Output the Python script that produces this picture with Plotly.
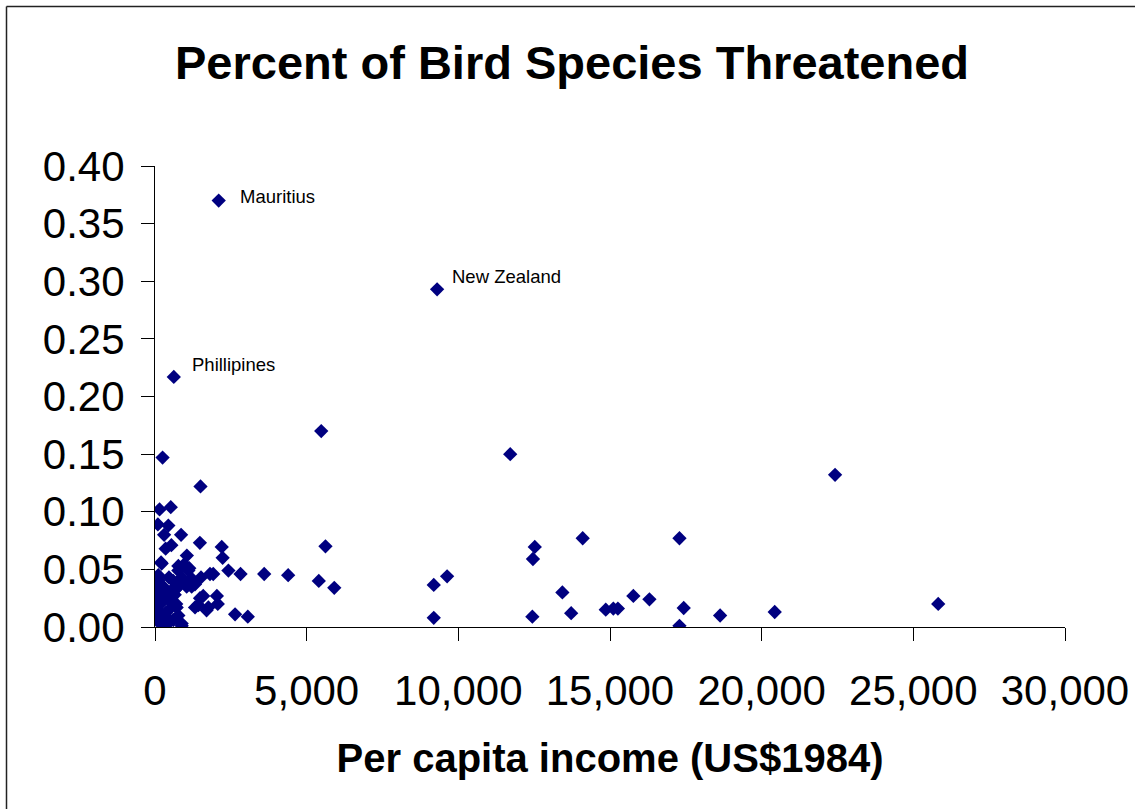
import plotly.graph_objects as go

# Per capita income (US$1984)
income = [
    2100, 9300, 620,
    5480, 11710, 22420, 250, 1500, 150, 520, 95, 440, 300, 860, 1480, 540, 350,
    2200, 2230, 1050, 5620, 12520, 12460, 14100, 17290, 200, 770, 1130, 1920,
    2420, 2820, 3600, 4390, 5400, 5910, 9190, 9630, 9190, 12440, 13430, 13720,
    14860, 15110, 15260, 15770, 16300, 17430, 17290, 18630, 20430, 25820,
    110, 460, 1590, 2040, 1430, 1320, 1700, 2070, 2640, 3060, 880, 220,
    769, 1099, 879, 1209, 1044, 1319, 769, 1517, 967, 659,
    220, 1813, 110, 110, 165, 165, 165, 330, 550, 495, 715, 769, 879, 440,
    330, 605, 275, 50, 50, 50, 300, 250, 400, 600, 350, 500, 700, 150, 80,
    200, 650, 950, 1484, 1759, 1209, 30, 120, 60,
]
# Share of bird species threatened
threatened = [
    0.370, 0.293, 0.217,
    0.170, 0.150, 0.132, 0.147, 0.122, 0.102, 0.104, 0.089, 0.088, 0.080, 0.080,
    0.073, 0.071, 0.068, 0.0695, 0.060, 0.062, 0.070, 0.0695, 0.059, 0.077,
    0.077, 0.056, 0.053, 0.051, 0.046, 0.049, 0.046, 0.046, 0.045, 0.040,
    0.034, 0.0365, 0.044, 0.008, 0.009, 0.030, 0.012, 0.015, 0.016, 0.016,
    0.027, 0.024, 0.0165, 0.001, 0.010, 0.013, 0.020,
    0.045, 0.043, 0.027, 0.027, 0.019, 0.017, 0.0145, 0.020, 0.011, 0.009,
    0.001, 0.003,
    0.049, 0.049, 0.043, 0.042, 0.035, 0.037, 0.035, 0.043, 0.0545, 0.032,
    0.055, 0.046, 0.0405, 0.029, 0.020, 0.0116, 0.003, 0.000, 0.032, 0.023,
    0.017, 0.010, 0.003, 0.0145, 0.007, 0.006, 0.035, 0.035, 0.026, 0.017,
    0.030, 0.022, 0.025, 0.040, 0.012, 0.005, 0.020, 0.035, 0.015, 0.010,
    0.028, 0.040, 0.025, 0.017, 0.035, 0.008, 0.038, 0.022,
]

labels = ["Mauritius", "New Zealand", "Phillipines"]
label_income = [2100, 9300, 620]
label_value = [0.370, 0.293, 0.217]

x_ticks = [0, 5000, 10000, 15000, 20000, 25000, 30000]
y_ticks = [0.00, 0.05, 0.10, 0.15, 0.20, 0.25, 0.30, 0.35, 0.40]

W, H = 1135, 809
L, R, T, B = 155, 70, 166, 182
pw, ph = W - L - R, H - T - B

fig = go.Figure()
fig.add_trace(go.Scatter(
    x=income, y=threatened, mode="markers",
    marker=dict(symbol="diamond", size=11, color="#000080", line=dict(width=0)),
    showlegend=False, hoverinfo="x+y",
))

label_shifts = [(19, 4), (13, 13), (16, 12)]
for name, xv, yv, (dx, dy) in zip(labels, label_income, label_value, label_shifts):
    fig.add_annotation(
        x=xv, y=yv, text=name, showarrow=False, xanchor="left", yanchor="middle",
        xshift=dx, yshift=dy, font=dict(family="Liberation Sans, Arial", size=18.5, color="black"),
    )

# outer chart-area frame: only its top and left edges fall inside the window
fx0, fy0 = 6.5, 6.5
px_left = (fx0 - L) / pw
px_right = (W + 40 - L) / pw
py_top = (T + ph - fy0) / ph
py_bottom = -(H + 40 - (T + ph)) / ph
frame = dict(type="line", xref="paper", yref="paper",
             line=dict(color="#222222", width=1.5), layer="below")
fig.add_shape(x0=px_left, x1=px_right, y0=py_top, y1=py_top, **frame)
fig.add_shape(x0=px_left, x1=px_left, y0=py_bottom, y1=py_top, **frame)

fig.update_layout(
    width=W, height=H,
    margin=dict(l=L, r=R, t=T, b=B, autoexpand=False),
    paper_bgcolor="white", plot_bgcolor="white",
    font=dict(family="Liberation Sans, Arial", color="black"),
    title=dict(
        text="<b>Percent of Bird Species Threatened</b>",
        x=572 / W, xanchor="center", y=1 - 63 / H, yanchor="middle",
        font=dict(size=47, family="Liberation Sans, Arial", color="black"),
    ),
    xaxis=dict(
        range=[0, 30000], tickvals=x_ticks,
        ticktext=[f"{v:,}" for v in x_ticks],
        showgrid=False, zeroline=False, showline=True, linecolor="black", linewidth=1,
        ticks="outside", ticklen=13, tickcolor="black", tickwidth=1,
        tickfont=dict(size=42), ticklabelstandoff=14,
        title=dict(text="<b>Per capita income (US$1984)</b>", font=dict(size=40), standoff=30),
        fixedrange=True,
    ),
    yaxis=dict(
        range=[0, 0.40], tickvals=y_ticks,
        ticktext=[f"{v:.2f}" for v in y_ticks],
        showgrid=False, zeroline=False, showline=True, linecolor="black", linewidth=1,
        ticks="outside", ticklen=13, tickcolor="black", tickwidth=1,
        tickfont=dict(size=42), ticklabelstandoff=8,
        fixedrange=True,
    ),
)

# remove the browser's default page margin (and scrollbars) so the figure sits at the window origin
fig.write_html(
    "out.html",
    config={"displayModeBar": False},
    post_script=(
        "document.body.style.margin='0';"
        "document.body.style.overflow='hidden';"
        "document.documentElement.style.overflow='hidden';"
    ),
)
